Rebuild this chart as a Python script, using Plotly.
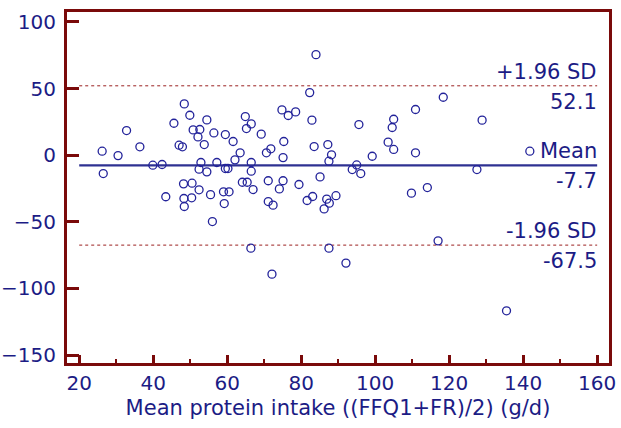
import plotly.graph_objects as go

# Bland-Altman data: mean of methods (x) and difference (y)
mean_intake = [84.0, 82.3, 48.4, 49.9, 54.5, 45.6, 32.8, 50.8, 52.6, 52.1,
               56.4, 53.8, 59.5, 61.6, 64.9, 66.5, 65.2, 69.2, 74.8, 76.5,
               78.5, 82.9, 75.3, 71.8, 70.6, 63.5, 62.1, 75.1, 83.5, 87.2,
               88.2, 87.5, 85.1, 26.2, 30.5, 36.4, 26.5, 47.0, 47.9, 39.9,
               42.4, 52.9, 52.4, 54.5, 57.2, 59.5, 60.2, 66.5, 66.5, 48.2,
               50.5, 52.4, 64.1, 65.4, 67.0, 71.1, 75.1, 79.4, 74.1, 55.5,
               59.0, 60.5, 43.4, 48.3, 50.4, 48.4, 59.2, 56.0, 71.1, 72.4,
               81.6, 83.1, 86.9, 87.6, 86.2, 89.4, 66.4, 72.1, 87.5, 95.0,
               93.8, 96.1, 109.8, 114.1, 117.0, 92.1, 135.5, 118.4, 110.9, 128.9,
               95.6, 105.0, 104.6, 103.5, 105.0, 110.9, 99.2, 141.8, 127.5]
difference = [75.5, 47.0, 38.5, 30.0, 26.5, 24.0, 18.5, 19.0, 19.3, 13.7,
              16.7, 8.0, 15.5, 10.3, 29.0, 23.5, 20.0, 15.8, 34.0, 29.8,
              32.5, 26.3, 10.3, 4.8, 1.8, 1.8, -3.5, -1.8, 6.5, 8.0,
              0.3, -4.5, -16.3, 3.0, -0.3, 6.3, -13.8, 7.5, 6.3, -7.5,
              -7.0, -5.5, -10.5, -12.5, -5.5, -10.0, -10.0, -5.5, -12.0, -21.5,
              -21.0, -26.0, -20.3, -20.3, -25.8, -19.2, -19.2, -22.0, -25.3, -29.6,
              -27.5, -27.5, -31.2, -32.5, -32.0, -38.5, -36.3, -49.8, -34.8, -37.5,
              -34.0, -31.0, -33.0, -36.0, -40.3, -30.4, -69.8, -89.3, -69.8, -7.3,
              -10.8, -13.8, -28.5, -24.3, -64.3, -81.0, -116.8, 43.5, 34.3, 26.3,
              23.0, 27.0, 20.8, 9.8, 4.3, 1.8, -0.8, 3.0, -10.8]

mean_diff = -7.7
upper_loa = 52.1
lower_loa = -67.5
line_x = [20, 160]

x_ticks = [20, 40, 60, 80, 100, 120, 140, 160]
y_ticks = [-150, -100, -50, 0, 50, 100]

frame_col = "#7a0a0a"
navy = "#1c1c85"
pt_col = "#23239a"
FONT = "DejaVu Sans, Liberation Sans, Arial, sans-serif"

fig = go.Figure()
fig.add_trace(go.Scatter(x=line_x, y=[upper_loa] * 2, mode="lines",
                         line=dict(color="#9b2020", width=1, dash="dot"), hoverinfo="skip"))
fig.add_trace(go.Scatter(x=line_x, y=[lower_loa] * 2, mode="lines",
                         line=dict(color="#9b2020", width=1, dash="dot"), hoverinfo="skip"))
fig.add_trace(go.Scatter(x=line_x, y=[mean_diff] * 2, mode="lines",
                         line=dict(color="#2e3192", width=2.2), hoverinfo="skip"))
fig.add_trace(go.Scatter(x=mean_intake, y=difference, mode="markers",
                         marker=dict(symbol="circle-open", size=8, color=pt_col,
                                     line=dict(width=1.3, color=pt_col))))

font_lbl = dict(family=FONT, size=21, color=navy)
labels = [("+1.96 SD", upper_loa, "bottom"), (f"{upper_loa:.1f}", upper_loa, "top"),
          ("Mean", mean_diff, "bottom"), (f"{mean_diff:.1f}", mean_diff, "top"),
          ("-1.96 SD", lower_loa, "bottom"), (f"{lower_loa:.1f}", lower_loa, "top")]
for txt, yv, anc in labels:
    fig.add_annotation(x=line_x[1], y=yv, text=txt, showarrow=False,
                       xanchor="right", yanchor=anc, font=font_lbl,
                       xshift=2, yshift=0 if anc == "bottom" else -2)

fig.update_layout(
    width=621, height=428, showlegend=False,
    plot_bgcolor="white", paper_bgcolor="white",
    margin=dict(l=67, r=12, t=12, b=65, autoexpand=False),
    font=dict(family=FONT, size=20, color=navy),
)
fig.update_xaxes(range=[16.7, 163.2], tickvals=x_ticks, ticks="inside", ticklen=8,
                 tickwidth=3, tickcolor=frame_col, showline=True, linecolor=frame_col,
                 linewidth=3, mirror=True, showgrid=False, zeroline=False, automargin=False,
                 minor=dict(ticks="inside", ticklen=4, tickwidth=2, dtick=10, tick0=0,
                            tickcolor=frame_col, showgrid=False),
                 title=dict(text="Mean protein intake ((FFQ1+FR)/2) (g/d)", standoff=7,
                            font=dict(family=FONT, size=21, color=navy)),
                 tickfont=dict(family=FONT, size=20, color=navy))
fig.update_yaxes(range=[-156, 107.5], tickvals=y_ticks, ticks="inside", ticklen=12,
                 tickwidth=3, tickcolor=frame_col, showline=True, linecolor=frame_col,
                 linewidth=3, mirror=True, showgrid=False, zeroline=False, automargin=False,
                 ticklabelstandoff=4,
                 tickfont=dict(family=FONT, size=20, color=navy))

fig.write_html("out.html")
